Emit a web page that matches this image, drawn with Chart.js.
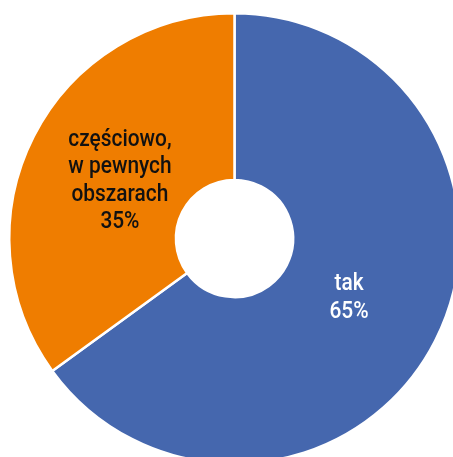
<!DOCTYPE html>
<html>
<head>
<meta charset="utf-8">
<script src="https://cdn.jsdelivr.net/npm/chart.js@4"></script>
<style>
  html, body { margin: 0; padding: 0; background: #fff; overflow: hidden; }
  #wrap { position: absolute; left: 0; top: -1px; }
</style>
</head>
<body>
<div id="wrap"><canvas id="myChart" width="469" height="479"></canvas></div>
<script>
const categories = [['tak'], ['częściowo,', 'w pewnych', 'obszarach']];
const shares = [65, 35];
const sliceColors = ['#4567ae', '#ef7d00'];
const textColors = ['#ffffff', '#111111'];

// podpisy wycinków: nazwa + procent, węższy krój
const sliceLabels = {
    id: 'sliceLabels',
    afterDatasetsDraw(chart) {
        const ctx = chart.ctx;
        const meta = chart.getDatasetMeta(0);
        const size = 24, lh = 27.5, squeeze = 0.87;
        meta.data.forEach((arc, i) => {
            const mid = (arc.startAngle + arc.endAngle) / 2;
            const r = arc.innerRadius + (arc.outerRadius - arc.innerRadius) * 0.42;
            const x = arc.x + Math.cos(mid) * r;
            const y = arc.y + Math.sin(mid) * r;
            const lines = [...categories[i], shares[i] + '%'];
            ctx.save();
            ctx.font = '500 ' + size + 'px Roboto';
            ctx.fillStyle = textColors[i];
            ctx.textAlign = 'center';
            ctx.textBaseline = 'middle';
            const top = y - (lines.length - 1) * lh / 2 + 1;
            lines.forEach((t, k) => {
                ctx.save();
                ctx.translate(x, top + k * lh);
                ctx.scale(squeeze, 1);
                ctx.fillText(t, 0, 0);
                ctx.restore();
            });
            ctx.restore();
        });
    }
};

new Chart(document.getElementById('myChart').getContext('2d'), {
    type: 'doughnut',
    data: {
        labels: categories.map(c => c.join(' ')),
        datasets: [{
            data: shares,
            backgroundColor: sliceColors,
            borderColor: '#ffffff',
            borderWidth: 2.5
        }]
    },
    options: {
        responsive: false,
        animation: false,
        cutout: '26%',
        layout: { padding: { left: 8, right: 8, top: 13, bottom: 13 } },
        plugins: {
            legend: { display: false },
            tooltip: { enabled: false }
        }
    },
    plugins: [sliceLabels]
});
</script>
</body>
</html>
